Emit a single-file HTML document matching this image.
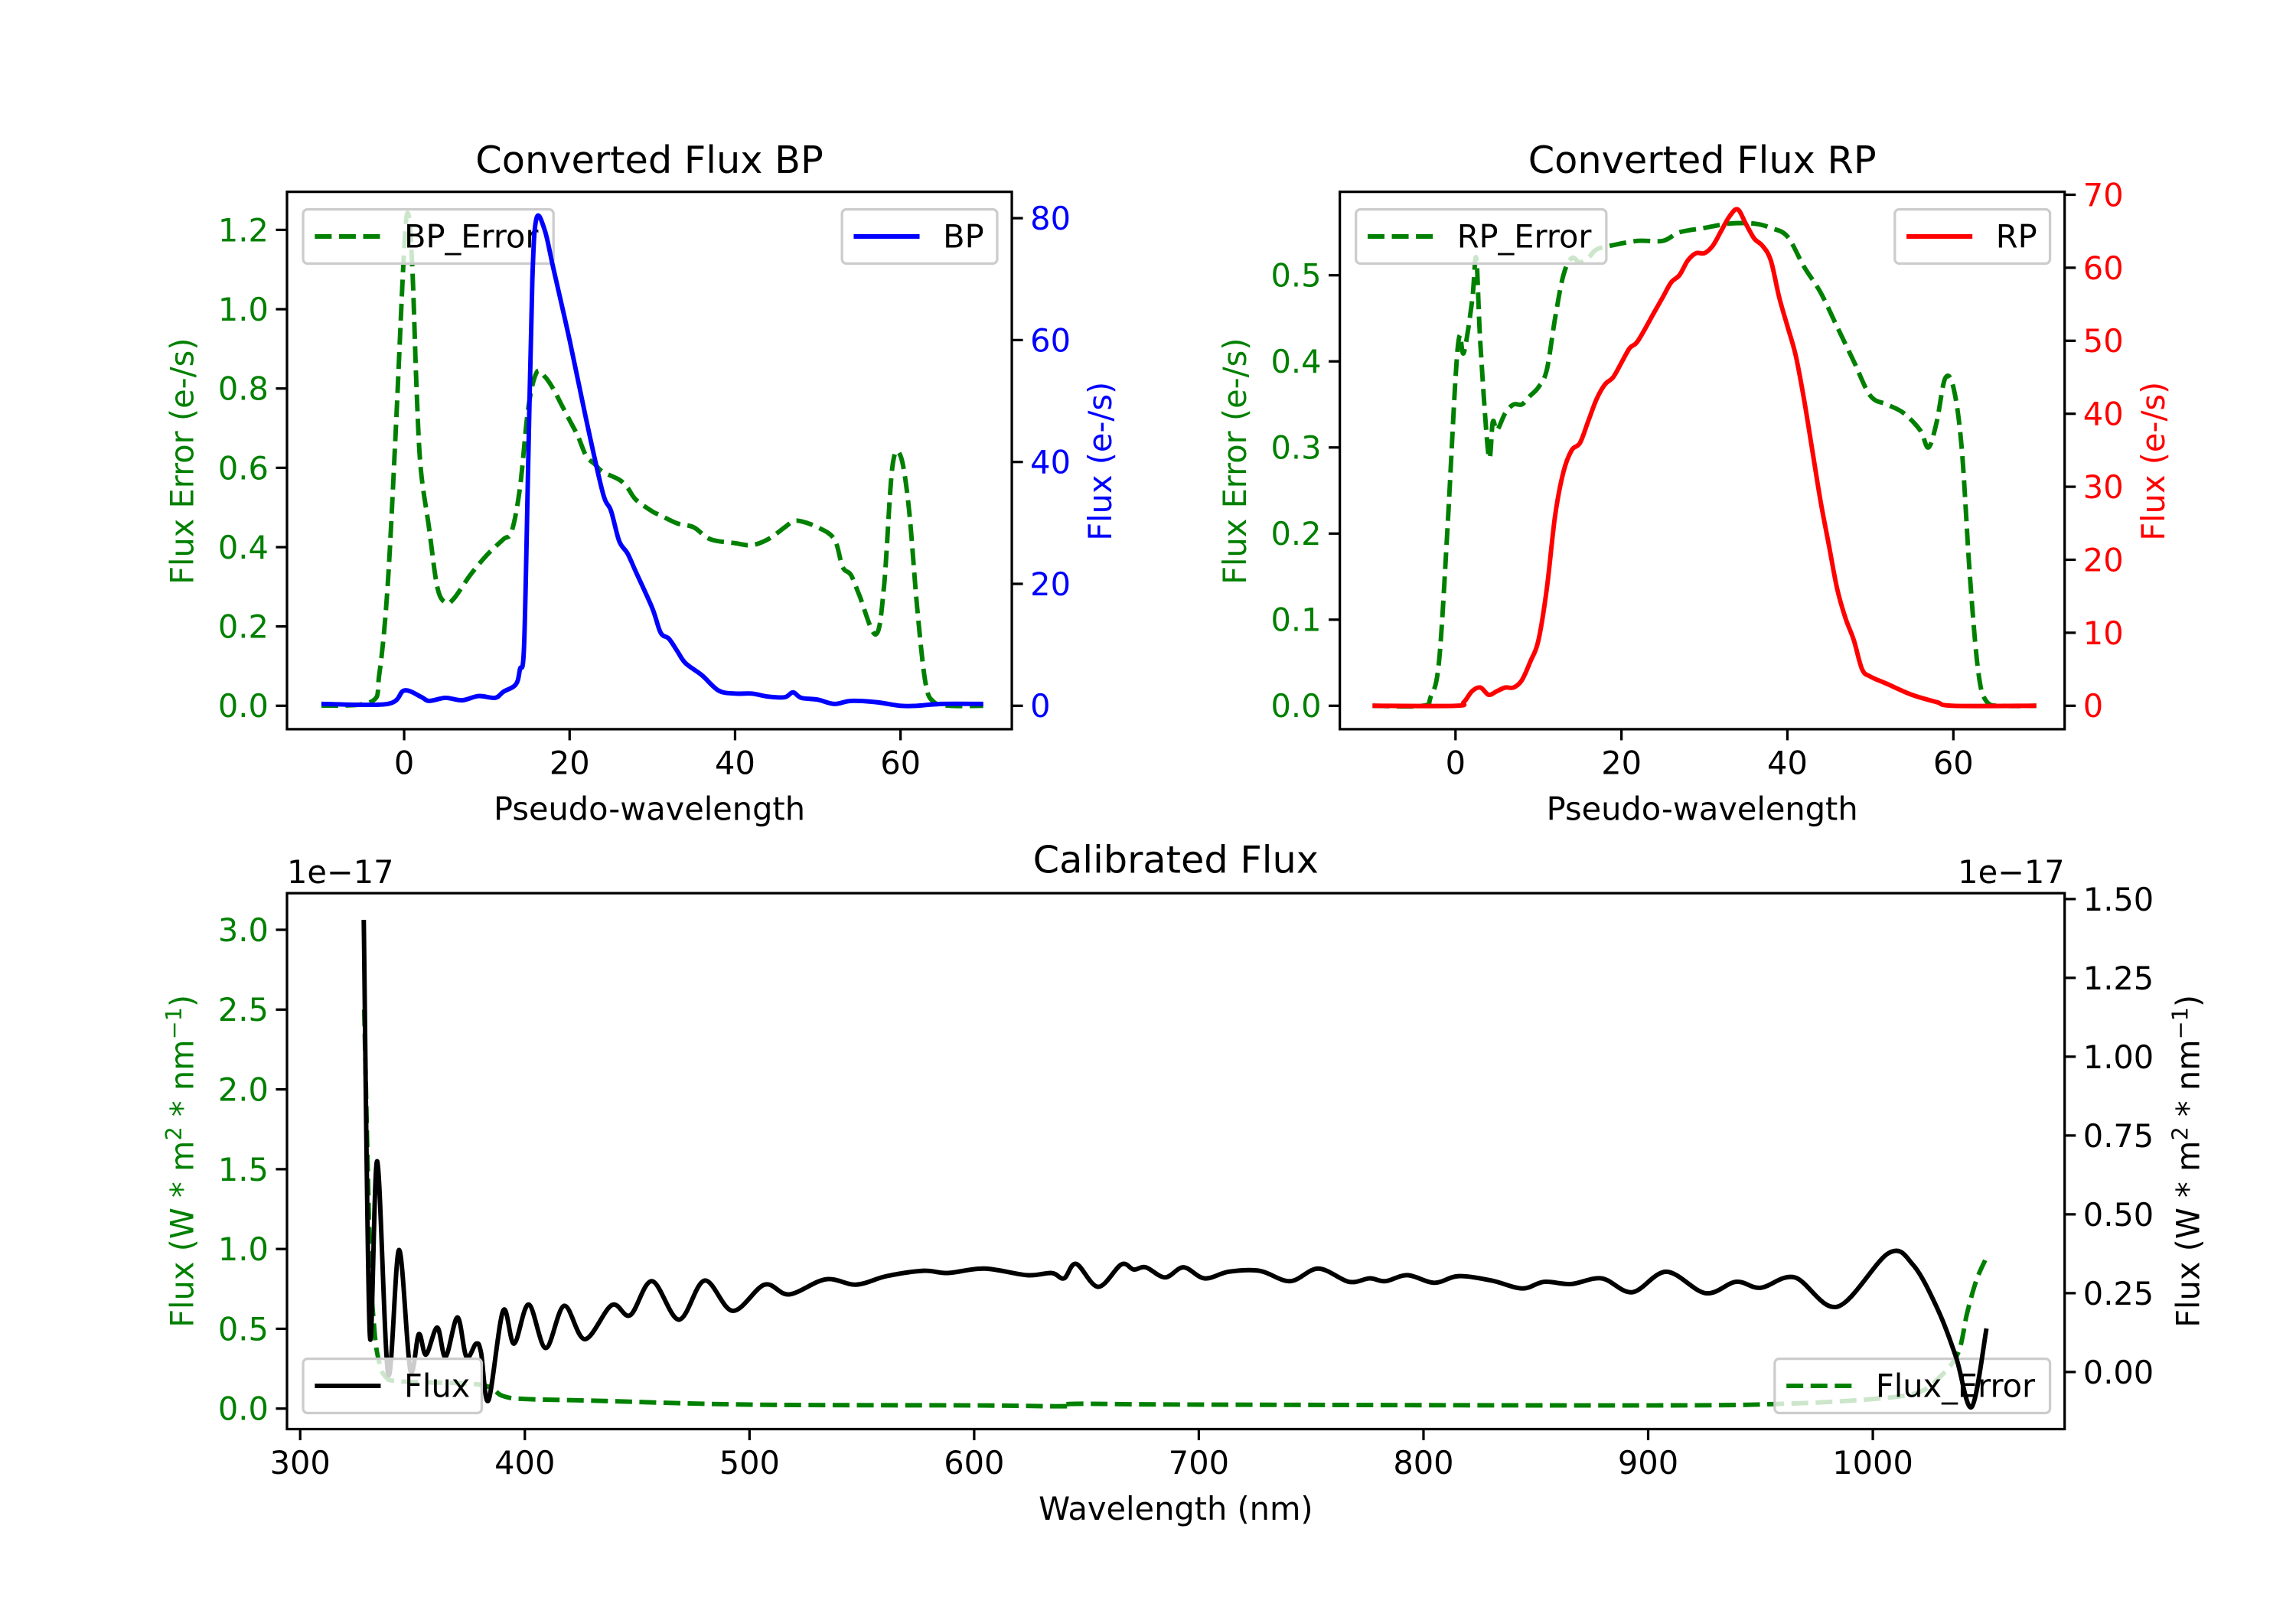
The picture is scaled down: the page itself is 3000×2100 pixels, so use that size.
<!DOCTYPE html>
<html><head><meta charset="utf-8"><style>
html,body{margin:0;padding:0;background:#fff}
svg{display:block}
text{font-family:"DejaVu Sans","Liberation Sans",sans-serif}
</style></head><body>
<svg id="fig" xmlns="http://www.w3.org/2000/svg" width="3000" height="2100" viewBox="0 0 1568 1097.5" preserveAspectRatio="none">
<rect x="0" y="0" width="1568" height="1098" fill="#fff"/>
</svg>
<script>
// ---- data ----
const bpX   = [-10,-2,0,2,3,5,7,9,11,12,13.5,14,14.5,15,15.5,16,17,18,20,22,24,25,26,27,28,30,31,32,33,34,36,38,40,42,44,46,47,48,50,52,54,57,60,62,65,70];
const bpFlux= [0.3,0.3,2.5,1.5,0.8,1.3,0.9,1.6,1.3,2.3,3.5,6,10,40,70,80,78,72,60,47,35,32,27,25,22,16,12,11,9,7,5,2.5,2,2,1.5,1.4,2.2,1.3,1,0.3,0.8,0.6,0,0,0.3,0.3];
const bpErrX= [-10,-4,-3,-2,-1,0,0.5,1,1.5,2,3,4,5,6,8,10,12,13,14,15,16,17,18,19,20,21,22,23,24,26,27,28,30,31,33,35,37,40,42,44,46,47,48,50,52,53,54,55,57,58,59,60,61,62,63,64,66,70];
const bpErr = [0,0.01,0.08,0.3,0.7,1.15,1.24,1.1,0.8,0.6,0.45,0.3,0.26,0.27,0.33,0.38,0.42,0.44,0.55,0.75,0.84,0.83,0.8,0.76,0.72,0.68,0.63,0.61,0.59,0.57,0.55,0.52,0.49,0.48,0.46,0.45,0.42,0.41,0.405,0.42,0.45,0.465,0.465,0.45,0.42,0.35,0.33,0.28,0.18,0.3,0.6,0.63,0.5,0.25,0.06,0.01,0,0];
const rpX   = [-10,0,1,2,3,4,5,6,7,8,9,10,11,12,13,14,15,16,17,18,19,20,21,22,24,25,26,27,28,29,30,31,32,33,34,35,36,37,38,39,40,41,42,43,44,45,46,47,48,49,50,52,55,58,60,70];
const rpFlux= [0,0,0.5,2,2.5,1.5,2,2.5,2.5,3.5,6,9,16,26,32,35,36,39,42,44,45,47,49,50,54,56,58,59,61,62,62,63,65,67,68,66,64,63,61,56,52,48,42,35,28,22,16,12,9,5,4,3,1.5,0.5,0,0];
const rpErrX= [-10,-4,-3,-2,-1,0,0.5,1,2,2.5,3,4,4.5,5,6,7,8,9,10,11,12,13,14,15,16,17,19,22,25,27,30,33,36,38,40,42,44,46,48,50,52,54,56,57,58,59,60,61,62,63,64,66,70];
const rpErr = [0,0,0.01,0.05,0.2,0.38,0.43,0.41,0.47,0.52,0.42,0.29,0.33,0.32,0.34,0.35,0.35,0.36,0.37,0.39,0.45,0.5,0.52,0.515,0.52,0.53,0.535,0.54,0.54,0.55,0.555,0.56,0.56,0.555,0.545,0.51,0.48,0.44,0.4,0.36,0.35,0.34,0.32,0.3,0.33,0.38,0.37,0.3,0.15,0.04,0.005,0,0];
const calX  = [328.3,331,334.3,339.2,344,349,352.8,356,361,364.7,370,374,378.3,380.5,383.8,390.3,395.2,401.7,409.3,417.5,426.7,438.7,446.9,456.6,468.6,480,492.5,506.7,517.6,533.9,547.5,561,577.4,588.3,604.6,623.6,634.5,640,645.4,655.2,665.5,671,676.4,685,693.2,702.5,713.4,727,740.6,753.2,766.8,776,783,792.9,804.8,815.6,830.3,843.9,853.7,865.7,879.3,892.9,908.1,925.5,939.1,950,965.2,984.2,1007,1018,1028.8,1037,1044,1050.6];
const calFlux=[1.434,0.118,0.668,-0.007,0.387,0.007,0.12,0.055,0.141,0.048,0.173,0.048,0.09,0.062,-0.09,0.194,0.09,0.214,0.076,0.21,0.104,0.212,0.18,0.288,0.166,0.29,0.194,0.277,0.246,0.294,0.277,0.304,0.321,0.314,0.328,0.307,0.314,0.297,0.343,0.27,0.341,0.325,0.332,0.3,0.332,0.297,0.318,0.321,0.288,0.328,0.286,0.297,0.288,0.307,0.283,0.304,0.29,0.265,0.286,0.279,0.297,0.253,0.318,0.25,0.286,0.267,0.3,0.207,0.377,0.339,0.2,0.048,-0.111,0.138];
const calErrX=[328.5,331,333,335,338,345,380,390,400,430,500,600,640,645,700,900,960,1000,1020,1030,1038,1042,1046,1050];
const calErr =[2.5,1.0,0.5,0.3,0.2,0.17,0.15,0.08,0.06,0.05,0.025,0.02,0.015,0.03,0.025,0.02,0.03,0.06,0.1,0.2,0.35,0.6,0.8,0.93];
const pwTicks=[0,20,40,60];
const bpErrTicks=[0,0.2,0.4,0.6,0.8,1.0,1.2];
const bpTicks=[0,20,40,60,80];
const rpErrTicks=[0,0.1,0.2,0.3,0.4,0.5];
const rpTicks=[0,10,20,30,40,50,60,70];
const nmTicks=[300,400,500,600,700,800,900,1000];
const calErrTicks=[0,0.5,1.0,1.5,2.0,2.5,3.0];
const calTicks=[0,0.25,0.5,0.75,1.0,1.25,1.5];

const NS="http://www.w3.org/2000/svg";
const svg=document.getElementById('fig');
function mk(tag,attrs,parent,txt){const e=document.createElementNS(NS,tag);for(const k in attrs)e.setAttribute(k,attrs[k]);if(txt!==undefined)e.textContent=txt;(parent||svg).appendChild(e);return e;}
function lin(d0,d1,p0,p1){return v=>p0+(v-d0)*(p1-p0)/(d1-d0);}
const FS=21.7, TFS=25.8, TICK=7.6, LW=3.1;
function fmt(v,dec){return v.toFixed(dec);}

function axesFrame(name,L,R,T,B){
  const r=mk('rect',{x:L,y:T,width:R-L,height:B-T,fill:'none',stroke:'#000','stroke-width':1.7});
  
  
  const cp=mk('clipPath',{id:'clip-'+name});
  mk('rect',{x:L,y:T,width:R-L,height:B-T},cp);
}
function xTicks(name,ticks,sx,B,dec){
  const g=mk('g',{});
  
  
  ticks.forEach(t=>{const x=sx(t);mk('line',{x1:x,x2:x,y1:B,y2:B+TICK,stroke:'#000','stroke-width':1.7},g);
    const tx=mk('text',{x:x,y:B+TICK+23,'font-size':FS,'text-anchor':'middle',fill:'#000'},g,fmt(t,dec));
    
    });
}
function yTicks(name,ticks,sy,X,side,color,dec){
  const g=mk('g',{});
  
  
  ticks.forEach(t=>{const y=sy(t);const x2=side==='left'?X-TICK:X+TICK;
    mk('line',{x1:X,x2:x2,y1:y,y2:y,stroke:'#000','stroke-width':1.7},g);
    const tx=mk('text',{x:side==='left'?x2-5:x2+5,y:y+7.8,'font-size':FS,'text-anchor':side==='left'?'end':'start',fill:color},g,fmt(t,dec));
    
    });
}
function smoothPath(P){
  let d='M'+P[0][0].toFixed(2)+','+P[0][1].toFixed(2);
  for(let i=0;i<P.length-1;i++){
    const p0=P[Math.max(i-1,0)],p1=P[i],p2=P[i+1],p3=P[Math.min(i+2,P.length-1)];
    const c1x=p1[0]+(p2[0]-p0[0])/6,c1y=p1[1]+(p2[1]-p0[1])/6;
    const c2x=p2[0]-(p3[0]-p1[0])/6,c2y=p2[1]-(p3[1]-p1[1])/6;
    d+=' C'+c1x.toFixed(2)+','+c1y.toFixed(2)+' '+c2x.toFixed(2)+','+c2y.toFixed(2)+' '+p2[0].toFixed(2)+','+p2[1].toFixed(2);
  }
  return d;
}
function series(name,xs,ys,sx,sy,color,dash,clip){
  const P=xs.map((x,i)=>[sx(x),sy(ys[i])]);
  const a={d:smoothPath(P),fill:'none',stroke:color,'stroke-width':LW,'stroke-linejoin':'round','clip-path':'url(#clip-'+clip+')'};
  if(dash)a['stroke-dasharray']='11.5,5';
  const p=mk('path',a);
  
  
}
function legend(name,x,y,w,label,color,dash){
  const g=mk('g',{});
  
  
  mk('rect',{x:x,y:y,width:w,height:37,rx:3,fill:'#fff','fill-opacity':0.8,stroke:'#ccc','stroke-width':1.7},g);
  const a={x1:x+8,x2:x+53,y1:y+18.5,y2:y+18.5,stroke:color,'stroke-width':LW};
  if(dash)a['stroke-dasharray']='11.5,5';
  mk('line',a,g);
  mk('text',{x:x+69,y:y+26,'font-size':FS,fill:'#000'},g,label);
}
function label(name,txt,x,y,rot,color,size,anchor){
  const t=mk('text',{x:x,y:y,'font-size':size||FS,'text-anchor':anchor||'middle',fill:color||'#000',transform:rot?'rotate(-90 '+x+' '+y+')':''},svg);
  t.innerHTML=txt;
  
  
  return t;
}

// ---- BP panel ----
(function(){
  const L=196,R=691,T=131,B=498;
  const sx=lin(0,60,276,615), syL=lin(0,1.2,482,157), syR=lin(0,80,482,149);
  axesFrame('bp',L,R,T,B);
  series('bp-error-line',bpErrX,bpErr,sx,syL,'#008000',true,'bp');
  legend('bp-error-legend',207,143,171,'BP_Error','#008000',true);
  series('bp-flux-line',bpX,bpFlux,sx,syR,'#0000ff',false,'bp');
  legend('bp-legend',575,143,106,'BP','#0000ff',false);
  xTicks('bp',pwTicks,sx,B,0);
  yTicks('bp-left',bpErrTicks,syL,L,'left','#008000',1);
  yTicks('bp-right',bpTicks,syR,R,'right','#0000ff',0);
  label('bp-title','Converted Flux BP',443.5,118,false,'#000',TFS);
  label('bp-x-axis-title','Pseudo-wavelength',443.5,560);
  label('bp-y-left-title','Flux Error (e-/s)',132,315,true,'#008000');
  label('bp-y-right-title','Flux (e-/s)',759,315,true,'#0000ff');
})();
// ---- RP panel ----
(function(){
  const L=915,R=1410,T=131,B=498;
  const sx=lin(0,60,994,1334), syL=lin(0,0.5,482,188), syR=lin(0,70,482,133);
  axesFrame('rp',L,R,T,B);
  series('rp-error-line',rpErrX,rpErr,sx,syL,'#008000',true,'rp');
  legend('rp-error-legend',926,143,171,'RP_Error','#008000',true);
  series('rp-flux-line',rpX,rpFlux,sx,syR,'#ff0000',false,'rp');
  legend('rp-legend',1294,143,106,'RP','#ff0000',false);
  xTicks('rp',pwTicks,sx,B,0);
  yTicks('rp-left',rpErrTicks,syL,L,'left','#008000',1);
  yTicks('rp-right',rpTicks,syR,R,'right','#ff0000',0);
  label('rp-title','Converted Flux RP',1162.5,118,false,'#000',TFS);
  label('rp-x-axis-title','Pseudo-wavelength',1162.5,560);
  label('rp-y-left-title','Flux Error (e-/s)',851,315,true,'#008000');
  label('rp-y-right-title','Flux (e-/s)',1478,315,true,'#ff0000');
})();
// ---- Calibrated panel ----
(function(){
  const L=196,R=1410,T=610,B=976;
  const sx=lin(300,1000,205,1279), syL=lin(0,3,962,635), syR=lin(0,1.5,937,614);
  axesFrame('cal',L,R,T,B);
  series('cal-error-line',calErrX,calErr,sx,syL,'#008000',true,'cal');
  legend('flux-error-legend',1212,928,188,'Flux_Error','#008000',true);
  series('cal-flux-line',calX,calFlux,sx,syR,'#000000',false,'cal');
  legend('flux-legend',207,928,122,'Flux','#000000',false);
  xTicks('cal',nmTicks,sx,B,0);
  yTicks('cal-left',calErrTicks,syL,L,'left','#008000',1);
  yTicks('cal-right',calTicks,syR,R,'right','#000000',2);
  label('cal-title','Calibrated Flux',803,596,false,'#000',TFS);
  label('cal-x-axis-title','Wavelength (nm)',803,1038);
  label('cal-left-offset','1e−17',196,603,false,'#000',FS,'start');
  label('cal-right-offset','1e−17',1410,603,false,'#000',FS,'end');
  label('cal-y-left-title','Flux (W * m<tspan font-size="15" dy="-8">2</tspan><tspan dy="8"> * nm</tspan><tspan font-size="15" dy="-8">−1</tspan><tspan dy="8">)</tspan>',132,793,true,'#008000');
  label('cal-y-right-title','Flux (W * m<tspan font-size="15" dy="-8">2</tspan><tspan dy="8"> * nm</tspan><tspan font-size="15" dy="-8">−1</tspan><tspan dy="8">)</tspan>',1502,793,true,'#000');
})();
</script>
</body></html>
